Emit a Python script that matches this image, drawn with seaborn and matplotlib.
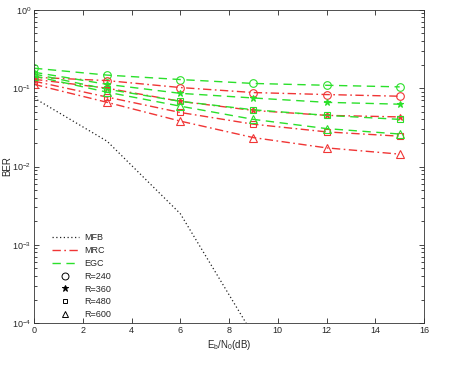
import matplotlib
matplotlib.use("Agg")
import matplotlib.pyplot as plt
import numpy as np
import pandas as pd
import seaborn as sns
from matplotlib.lines import Line2D
from matplotlib.ticker import LogLocator, NullFormatter

SNR = [0, 3, 6, 9, 12, 15]
MFB_SNR = [0, 3, 6, 9]
MFB = [0.075, 0.021, 0.0025, 0.00007]

MRC = {
    240: [0.138, 0.125, 0.102, 0.088, 0.083, 0.079],
    360: [0.130, 0.100, 0.068, 0.052, 0.045, 0.043],
    480: [0.123, 0.077, 0.049, 0.0347, 0.0277, 0.0244],
    600: [0.112, 0.066, 0.038, 0.0234, 0.0173, 0.0144],
}
EGC = {
    240: [0.180, 0.147, 0.129, 0.115, 0.109, 0.104],
    360: [0.160, 0.112, 0.086, 0.075, 0.066, 0.0625],
    480: [0.152, 0.097, 0.068, 0.053, 0.045, 0.040],
    600: [0.143, 0.089, 0.059, 0.040, 0.0305, 0.026],
}
MARKERS = {240: "o", 360: "*", 480: "s", 600: "^"}
MSIZE = {240: 5.5, 360: 5, 480: 3.8, 600: 5.5}

RED = "#f03535"
GREEN = "#2be02b"
DASHDOT = (0, (6, 2.5, 1.2, 2.5))
DASHED = (0, (6, 4))

sns.set_style("ticks")
plt.rcParams["font.family"] = ["Liberation Sans", "DejaVu Sans"]
plt.rcParams["mathtext.fontset"] = "custom"
plt.rcParams["mathtext.rm"] = "Liberation Sans"
plt.rcParams["mathtext.it"] = "Liberation Sans"

fig, ax = plt.subplots(figsize=(4.54, 3.66), dpi=100)
fig.subplots_adjust(left=0.075, right=0.934, bottom=0.117, top=0.973)

sns.lineplot(x=MFB_SNR, y=MFB, ax=ax, color="#222222", linestyle=(0, (1, 2)), linewidth=0.9)

for r in MARKERS:
    for vals, color, ls in [(EGC[r], GREEN, DASHED), (MRC[r], RED, DASHDOT)]:
        filled = MARKERS[r] == "*"
        sns.lineplot(
            x=SNR, y=vals, ax=ax, color=color, linestyle=ls, linewidth=1.0,
            marker=MARKERS[r], markersize=MSIZE[r],
            markerfacecolor=color if filled else "none",
            markeredgecolor=color, markeredgewidth=0.8,
        )

ax.set_yscale("log")
ax.set_xlim(0, 16)
ax.set_ylim(1e-4, 1)
ax.set_xticks(range(0, 17, 2))
ax.yaxis.set_major_locator(LogLocator(base=10, numticks=10))
ax.yaxis.set_minor_locator(LogLocator(base=10, subs=np.arange(2, 10), numticks=10))
ax.yaxis.set_minor_formatter(NullFormatter())
ax.tick_params(which="both", direction="in", top=True, right=True, labelsize=6.5, width=0.6, pad=2)
ax.tick_params(which="major", length=3.5)
ax.tick_params(which="minor", length=2)
for s in ax.spines.values():
    s.set_linewidth(0.6)
    s.set_color("#333333")

ax.set_xlabel(r"E$_b$/N$_0$(dB)", fontsize=7, labelpad=2)
ax.set_ylabel("BER", fontsize=7, labelpad=0)

handles = [
    Line2D([], [], color="#222222", linestyle=(0, (1, 2)), linewidth=0.9),
    Line2D([], [], color=RED, linestyle=DASHDOT, linewidth=1.0),
    Line2D([], [], color=GREEN, linestyle=DASHED, linewidth=1.0),
]
labels = ["MFB", "MRC", "EGC"]
for r in MARKERS:
    filled = MARKERS[r] == "*"
    handles.append(Line2D([], [], linestyle="none", marker=MARKERS[r], markersize=MSIZE[r] - 0.5,
                          color="black", markerfacecolor="black" if filled else "none",
                          markeredgewidth=0.7))
    labels.append(f"R={r}")
ax.legend(handles, labels, loc="lower left", frameon=False, fontsize=6.5,
          handlelength=3.0, handletextpad=0.6, labelspacing=0.42,
          borderaxespad=0.05, bbox_to_anchor=(0.035, 0.0))

fig.savefig("out.png", dpi=100)
